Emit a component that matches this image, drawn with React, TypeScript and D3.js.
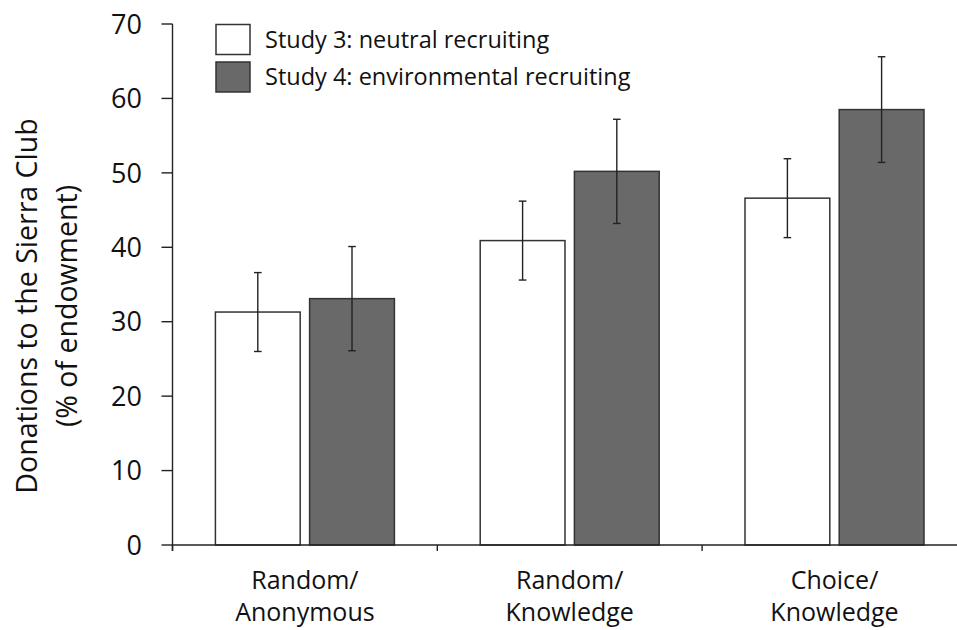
import React from "react";
import * as d3 from "d3";

const categories = ["Random/\nAnonymous", "Random/\nKnowledge", "Choice/\nKnowledge"];
const seriesNames = ["Study 3: neutral recruiting", "Study 4: environmental recruiting"];
const neutralValues = [31.3, 40.9, 46.6];
const neutralErrors = [5.3, 5.3, 5.3];
const envValues = [33.1, 50.2, 58.5];
const envErrors = [7.0, 7.0, 7.1];
const yTicks = [0, 10, 20, 30, 40, 50, 60, 70];
const yLabelLines = ["Donations to the Sierra Club", "(% of endowment)"];

const W = 957;
const H = 630;
const FONT = "'Open Sans', 'Noto Sans', sans-serif";
const fills = ["#ffffff", "#696969"];

export default function App() {
  const y = d3.scaleLinear().domain([0, 70]).range([545, 24]);
  const x0 = d3.scaleBand<string>().domain(categories).range([172.5, 966.9]).paddingInner(0).paddingOuter(0);
  const bw = x0.bandwidth();
  const x1 = d3
    .scaleBand<string>()
    .domain(seriesNames)
    .range([bw / 2 - 89.5, bw / 2 + 89.5])
    .paddingInner(0.1)
    .paddingOuter(0);

  const series = [
    { name: seriesNames[0], values: neutralValues, errors: neutralErrors, fill: fills[0] },
    { name: seriesNames[1], values: envValues, errors: envErrors, fill: fills[1] },
  ];

  const axisX0 = 172.5;
  const boundaries = categories.map((c) => x0(c) as number).concat([(x0(categories[2]) as number) + bw]);

  return (
    <svg
      width={W}
      height={H}
      style={{ position: "absolute", left: 0, top: 0, background: "#fff" }}
      fontFamily={FONT}
    >
      <rect x={0} y={0} width={W} height={H} fill="#fff" />
      {series.map((s) =>
        categories.map((c, i) => {
          const bx = (x0(c) as number) + (x1(s.name) as number);
          const bwid = x1.bandwidth();
          const top = y(s.values[i]);
          return (
            <rect
              key={s.name + c}
              x={bx}
              y={top}
              width={bwid}
              height={y(0) - top}
              fill={s.fill}
              stroke="#333"
              strokeWidth={1.5}
            />
          );
        })
      )}
      {series.map((s) =>
        categories.map((c, i) => {
          const cx = (x0(c) as number) + (x1(s.name) as number) + x1.bandwidth() / 2;
          const hi = y(s.values[i] + s.errors[i]);
          const lo = y(s.values[i] - s.errors[i]);
          const cap = 3.8;
          return (
            <g key={"e" + s.name + c} stroke="#222" strokeWidth={1.4}>
              <line x1={cx} x2={cx} y1={hi} y2={lo} />
              <line x1={cx - cap} x2={cx + cap} y1={hi} y2={hi} />
              <line x1={cx - cap} x2={cx + cap} y1={lo} y2={lo} />
            </g>
          );
        })
      )}
      <line x1={axisX0} x2={axisX0} y1={y(70)} y2={y(0) + 6} stroke="#222" strokeWidth={1.4} />
      {yTicks.map((t) => (
        <g key={"yt" + t}>
          <line x1={axisX0 - 11} x2={axisX0} y1={y(t)} y2={y(t)} stroke="#222" strokeWidth={1.4} />
          <text x={142} y={y(t)} dy="0.36em" textAnchor="end" fontSize={27} fill="#111">
            {t}
          </text>
        </g>
      ))}
      <line x1={axisX0} x2={W} y1={y(0)} y2={y(0)} stroke="#222" strokeWidth={1.4} />
      {boundaries.map((b, i) => (
        <line key={"xt" + i} x1={b} x2={b} y1={y(0)} y2={y(0) + 6} stroke="#222" strokeWidth={1.4} />
      ))}
      {categories.map((c) => {
        const cx = (x0(c) as number) + bw / 2;
        const lines = c.split("\n");
        return (
          <text key={"xl" + c} x={cx} textAnchor="middle" fontSize={25} fill="#111">
            {lines.map((l, j) => (
              <tspan key={j} x={cx} y={589 + j * 32}>
                {l}
              </tspan>
            ))}
          </text>
        );
      })}
      {yLabelLines.map((l, j) => (
        <text
          key={"yl" + j}
          transform={`translate(${37 + j * 40}, 306) rotate(-90)`}
          textAnchor="middle"
          fontSize={28.5}
          fill="#111"
        >
          {l}
        </text>
      ))}
      {series.map((s, j) => (
        <g key={"lg" + j} transform={`translate(216, ${24.5 + j * 37.5})`}>
          <rect x={0} y={0} width={34} height={30} fill={s.fill} stroke="#333" strokeWidth={1.5} />
          <text x={49} y={15} dy="0.36em" fontSize={23.5} fill="#111">
            {s.name}
          </text>
        </g>
      ))}
    </svg>
  );
}
